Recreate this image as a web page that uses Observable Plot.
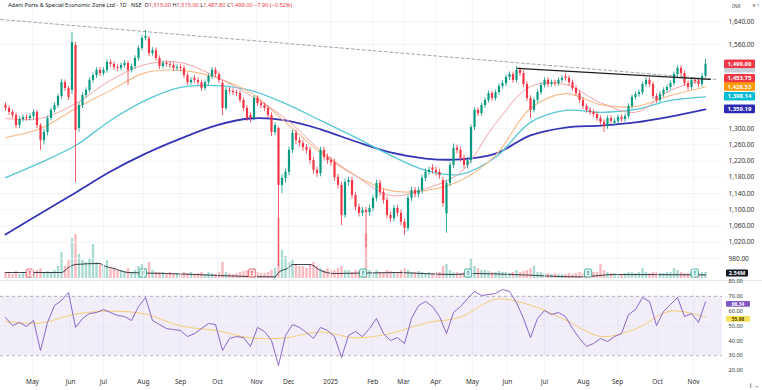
<!DOCTYPE html>
<html><head><meta charset="utf-8">
<script src="https://cdn.jsdelivr.net/npm/d3@7"></script>
<script src="https://cdn.jsdelivr.net/npm/@observablehq/plot@0.6"></script>
<style>
body{margin:0;background:#fff}
#wrap{position:relative;width:762px;height:390px;overflow:hidden;font-family:"Noto Sans",Roboto,sans-serif;background:#fff}
#title{position:absolute;left:8px;top:1px;font-size:5.6px;color:#131722;white-space:nowrap;z-index:5}
#title .v{color:#f23645}
#inr{position:absolute;left:732px;top:3px;font-size:5px;color:#555;z-index:5}
#sep{position:absolute;left:0;top:280px;width:762px;height:1px;background:#e6e8ee}
</style></head><body>
<div id="wrap">
<div id="sep"></div>
<div id="title">Adani Ports &amp; Special Economic Zone Ltd · 1D · NSE&nbsp; O<span class="v">1,515.00</span> H<span class="v">1,515.00</span> L<span class="v">1,487.80</span> C<span class="v">1,499.00</span> <span class="v">−7.90 (−0.52%)</span></div>
<div id="inr">INR</div>
</div>
<script>
// ---------- DATA (bar index = one candle, ~2 sessions) ----------
const closes = [1362,1350,1340,1309,1328,1334,1331,1337,1350,1309,
1270,1290,1331,1356,1371,1399,1442,1424,1396,1567,
1295,1371,1402,1418,1449,1464,1480,1470,1480,1504,
1498,1489,1486,1495,1501,1480,1492,1517,1548,1581,
1588,1532,1541,1517,1492,1501,1498,1495,1486,1489,
1486,1464,1442,1449,1449,1442,1424,1442,1461,1480,
1467,1449,1362,1418,1415,1411,1408,1387,1362,1331,
1331,1393,1377,1371,1362,1340,1290,1309,1160,1177,
1192,1246,1288,1270,1263,1253,1246,1221,1197,1189,
1246,1229,1221,1216,1179,1160,1086,1167,1172,1135,
1106,1091,1098,1093,1103,1128,1165,1142,1123,1086,
1078,1103,1091,1069,1054,1128,1147,1138,1147,1177,
1192,1197,1197,1192,1184,1115,1165,1209,1251,1246,
1226,1209,1221,1303,1356,1346,1371,1387,1408,1393,
1411,1430,1439,1458,1467,1449,1480,1470,1436,1393,
1356,1387,1411,1433,1449,1436,1442,1439,1449,1455,
1455,1442,1424,1408,1387,1368,1356,1350,1343,1331,
1319,1306,1331,1322,1322,1334,1328,1337,1368,1396,
1405,1411,1436,1449,1436,1399,1387,1405,1418,1427,
1439,1467,1486,1470,1439,1427,1449,1445,1436,1461,
1499];
const opens = [1372,1362,1350,1340,1309,1328,1334,1331,1337,1350,
1309,1270,1290,1331,1356,1371,1399,1442,1424,1418,
1557,1300,1371,1402,1418,1449,1464,1480,1470,1480,
1504,1498,1489,1486,1495,1501,1480,1492,1517,1548,
1581,1580,1532,1541,1517,1492,1501,1498,1495,1486,
1489,1486,1464,1442,1455,1449,1442,1424,1442,1461,
1480,1467,1440,1362,1418,1415,1411,1408,1387,1362,
1340,1331,1393,1377,1371,1362,1340,1290,1300,1160,
1177,1192,1246,1288,1270,1263,1253,1246,1221,1197,
1189,1246,1229,1221,1216,1179,1160,1086,1167,1172,
1135,1106,1091,1098,1093,1103,1128,1165,1142,1123,
1086,1078,1103,1091,1069,1054,1128,1147,1138,1147,
1177,1192,1203,1197,1192,1172,1090,1165,1209,1251,
1246,1226,1209,1221,1303,1356,1346,1371,1387,1408,
1393,1411,1430,1439,1458,1467,1449,1480,1470,1436,
1393,1356,1387,1411,1433,1449,1436,1442,1439,1449,
1460,1455,1442,1424,1408,1387,1368,1356,1350,1343,
1331,1319,1306,1331,1316,1322,1334,1328,1337,1368,
1396,1405,1411,1436,1449,1436,1399,1387,1405,1418,
1427,1439,1467,1486,1470,1439,1427,1449,1445,1436,
1462];
const highs = [1380,1370,1358,1348,1336,1342,1342,1346,1358,1356,
1315,1298,1338,1364,1380,1407,1452,1450,1430,1602,
1567,1380,1410,1426,1457,1472,1488,1489,1488,1512,
1512,1506,1497,1503,1510,1508,1500,1525,1556,1592,
1609,1588,1550,1549,1524,1509,1509,1506,1503,1497,
1497,1494,1472,1457,1463,1457,1450,1450,1469,1490,
1488,1475,1448,1426,1426,1423,1419,1416,1395,1370,
1348,1401,1401,1385,1379,1370,1348,1317,1305,1186,
1200,1254,1296,1296,1278,1271,1261,1254,1229,1205,
1254,1254,1237,1229,1224,1187,1168,1175,1180,1180,
1143,1114,1106,1106,1111,1136,1173,1173,1150,1131,
1094,1111,1111,1099,1077,1136,1155,1155,1155,1185,
1200,1205,1211,1205,1200,1180,1173,1217,1262,1259,
1254,1234,1229,1311,1364,1364,1379,1395,1416,1416,
1419,1438,1447,1466,1475,1475,1492,1488,1478,1444,
1401,1395,1419,1441,1457,1457,1450,1450,1457,1463,
1468,1463,1450,1432,1416,1395,1376,1364,1358,1351,
1339,1327,1339,1339,1330,1342,1342,1345,1376,1404,
1413,1419,1444,1457,1457,1444,1407,1413,1426,1435,
1447,1475,1494,1494,1478,1447,1457,1457,1453,1469,
1515];
const lows = [1353,1341,1331,1300,1300,1320,1322,1323,1328,1300,
1246,1260,1282,1324,1348,1362,1390,1415,1387,1405,
1167,1290,1362,1393,1410,1440,1455,1461,1462,1471,
1489,1480,1477,1478,1487,1433,1472,1484,1509,1540,
1572,1522,1524,1508,1483,1484,1490,1486,1477,1478,
1477,1455,1433,1434,1440,1433,1415,1416,1434,1453,
1458,1440,1340,1355,1406,1402,1399,1378,1353,1322,
1318,1324,1368,1362,1353,1331,1280,1282,960,1140,
1165,1184,1238,1260,1254,1244,1237,1212,1188,1180,
1181,1220,1212,1207,1170,1151,1061,1079,1158,1126,
1097,1082,1083,1007,1085,1095,1120,1133,1114,1077,
1069,1070,1082,1060,1037,1047,1120,1129,1130,1139,
1169,1184,1188,1183,1175,1106,1042,1157,1201,1237,
1217,1200,1200,1213,1295,1337,1338,1362,1379,1384,
1385,1402,1421,1430,1449,1440,1441,1461,1427,1384,
1331,1348,1379,1403,1425,1427,1428,1430,1431,1441,
1446,1433,1415,1399,1378,1359,1347,1341,1334,1322,
1310,1290,1298,1313,1308,1314,1319,1320,1329,1360,
1388,1397,1403,1428,1427,1390,1378,1379,1397,1410,
1419,1431,1459,1461,1430,1418,1419,1436,1427,1428,
1455];
// volume in millions, one per candle
const volumes = [3,2.5,2,3.5,2,2.5,2,3,2.5,4,5,3,3.5,3,4,6,
13,6,9,20,22,12,9,8,10,17,8,7,6,9,5,
5,4,4,3.5,5,3,4,6,7,5,8,4,3,3,3,
2.5,3,2,2.5,2,3,2.5,3,2,2.5,3,2,3,2.5,2,
3,8,3,2.5,2,2.5,3,3.5,4,3,5,3,2.5,2.5,3,4,5,
30,14,11,8,9,7,6,6,5,7,8,6,5,4,5,4,4,5,
6,4,4,3,4,3.5,3,22,4,3,4,3,3,4,3.5,3,3,4,5,4,
3,3,3.5,3,2.5,3,2.5,3,3,6,7,4,3,3,2.5,3,3,10,6,5,
4,4,3.5,3,3,3.5,3,3,2.5,3,4,3,3.5,4,5,6,3,3,2.5,2.5,
2,2.5,2,2,2,2.5,2,2.5,3,2.5,3,2.5,3,3,7,4,3,2.5,2.5,2,
2,2.5,3,3,2.5,3,5,3,2.5,3,3,2.5,2.5,3,3,5,4,3,2.5,2.5,3,2.5,2.5,3,3];
const volMAIdx = [0,16,18,20,27,28,31,35,46,77,78,81,82,87,90,94,112,119,128,134,145,164,174,200];
const volMAVal = [3,3,5.5,7,7.5,6.5,5,3,2.5,0.8,3,5.5,7,7,4,2.5,3,2.5,2,2.5,2,0.8,2,1.8];
// moving averages sampled every 10 candles
const maIdx = [0,10,20,30,40,50,60,70,80,90,100,110,120,130,140,150,160,170,180,190,200];
const ma20  = [1331,1331,1377,1449,1498,1504,1461,1402,1331,1246,1184,1135,1152,1192,1315,1430,1436,1380,1350,1418,1453.75];
const ma50  = [1278,1300,1362,1418,1473,1480,1458,1411,1319,1241,1184,1147,1147,1172,1234,1362,1408,1374,1368,1402,1428.53];
const ma100 = [1179,1216,1258,1325,1387,1427,1433,1418,1377,1325,1278,1234,1197,1187,1229,1319,1356,1350,1359,1387,1398.14];
const ma200 = [1039,1091,1142,1194,1238,1275,1309,1331,1325,1298,1268,1241,1226,1224,1238,1283,1303,1309,1319,1337,1359.19];
// trend lines (two end points each)
const trendDashIdx = [-1.4, 202.9], trendDashVal = [1647, 1452];
const trendSolidIdx = [146.3, 201.4], trendSolidVal = [1486, 1452];
// RSI (every 2 candles) and its average (every 10 candles)
const rsi = [55.7,50.3,52.4,49.7,53.7,33.5,52.4,63.8,67.2,72.6,
49.0,55.1,58.4,59.1,61.1,59.1,57.1,56.4,53.7,63.1,
69.2,53.7,51.0,48.3,47.6,47.0,42.9,44.9,48.3,51.7,
51.0,33.5,41.6,42.9,42.2,36.2,49.0,46.3,40.2,23.4,
43.6,51.0,49.0,45.6,41.6,49.0,47.0,42.9,28.8,43.6,
46.3,42.9,48.3,55.1,44.9,40.2,42.2,38.2,55.1,63.8,
66.5,63.1,56.4,44.9,59.1,63.1,68.5,73.3,70.6,71.2,
71.9,74.6,73.3,65.8,55.1,42.2,55.1,60.4,57.7,59.1,
56.4,48.3,41.6,36.2,38.2,41.6,39.5,42.9,44.9,57.7,
61.1,69.2,66.5,50.3,59.8,64.5,69.2,56.4,58.4,52.4,66.34];
const rsiMA = [53,52,58,60,58,50,47,42,42,46,42,45,52,56,68,64,54,43,48,60,55.98];
// axis ticks
const monthIdx = [7.7,18.6,28,39.4,50,60.6,71.7,80.9,92.9,104.9,113.7,122.9,133.4,143.4,154,165.1,174.9,186.3,196.6];
const monthLabels = ["May","Jun","Jul","Aug","Sep","Oct","Nov","Dec","2025","Feb","Mar","Apr","May","Jun","Jul","Aug","Sep","Oct","Nov"];
const priceTicks = [980,1020,1060,1100,1140,1180,1220,1260,1300,1560,1640];
const rsiTicks = [20,30,40,50,60,70,80];
// last-value tags
const priceTagVals = [1499.00,1453.75,1428.53,1398.14,1359.19];
const priceTagColors = ["#f23645","#f23645","#ff9800","#00bcd4","#2a2ab5"];
const hiddenTagVal = 1481.00;
const eventIdx = [7.1,39.4,70.6,102.3,132.3,166.6,197.1];
const eventPositive = [false,true,false,true,true,true,true];
const lastVolume = 2.54;

// ---------- CHART ----------
const W = 762, H = 390;
const GREEN = "#089981", RED = "#f23645";
const fmt2 = d3.format(",.2f");
const N = closes.length;
const candles = d3.range(N).map(i => ({i, o: opens[i], h: highs[i], l: lows[i], c: closes[i], v: volumes[i] ?? 0}));
const col = d => d.c >= d.o ? GREEN : RED;
const xOpt = {domain: [0, 200], range: [5, 705], axis: null};
const priceScale = {type: "linear", domain: [940, 980, 1300, 1560, 1640, 1700], range: [274.25, 258, 128, 44, 21, 3.75], axis: null};
const baseStyle = {position: "absolute", left: "0px", top: "0px", background: "transparent", overflow: "visible", fontFamily: "'Noto Sans',Roboto,sans-serif", fontSize: "6.5px", color: "#333"};
const pts = (idx, vals) => idx.map((i, k) => ({i, v: vals[k]}));
const wrap = document.getElementById("wrap");

// volume pane (under the candles)
const volChart = Plot.plot({
  width: W, height: H, marginLeft: 0, marginRight: 40, marginTop: 0, marginBottom: 110,
  style: baseStyle,
  x: xOpt,
  y: {domain: [0, 50], range: [278, 178], axis: null},
  marks: [
    Plot.ruleX(candles, {x: "i", y1: 0, y2: "v", stroke: col, strokeOpacity: 0.35, strokeWidth: 2.4}),
    Plot.line(pts(volMAIdx, volMAVal), {x: "i", y: "v", stroke: "#131722", strokeWidth: 0.8, curve: "monotone-x"})
  ]
});
wrap.appendChild(volChart);

// price pane
const priceChart = Plot.plot({
  width: W, height: H, marginLeft: 0, marginRight: 40, marginTop: 0, marginBottom: 110,
  style: baseStyle,
  x: xOpt,
  y: priceScale,
  marks: [
    Plot.ruleY(priceTicks, {stroke: "#f0f3fa", strokeWidth: 0.8}),
    Plot.ruleX(monthIdx, {stroke: "#f0f3fa", strokeWidth: 0.8}),
    Plot.line(pts(trendDashIdx, trendDashVal), {x: "i", y: "v", stroke: "#8a8e99", strokeWidth: 0.8, strokeDasharray: "3,2.5"}),
    Plot.line(pts(maIdx, ma200), {x: "i", y: "v", stroke: "#3535b8", strokeWidth: 1.8, curve: "catmull-rom"}),
    Plot.line(pts(maIdx, ma100), {x: "i", y: "v", stroke: "#55c8d4", strokeWidth: 1.3, curve: "catmull-rom"}),
    Plot.line(pts(maIdx, ma50), {x: "i", y: "v", stroke: "#f6bb8a", strokeWidth: 1.1, curve: "catmull-rom"}),
    Plot.line(pts(maIdx, ma20), {x: "i", y: "v", stroke: "#f5a3a8", strokeWidth: 1, curve: "catmull-rom"}),
    Plot.ruleX(candles, {x: "i", y1: "l", y2: "h", stroke: col, strokeWidth: 0.8}),
    Plot.ruleX(candles, {x: "i", y1: "o", y2: "c", stroke: col, strokeWidth: 2.2}),
    Plot.line(pts(trendSolidIdx, trendSolidVal), {x: "i", y: "v", stroke: "#1e1e1e", strokeWidth: 1.1}),
    Plot.axisY(priceTicks, {anchor: "right", tickSize: 0, tickPadding: 6, tickFormat: fmt2, fill: "#333", fontSize: 6.5})
  ]
});
wrap.appendChild(priceChart);

// RSI pane
const monthLabelOf = new Map(monthIdx.map((d, k) => [d, monthLabels[k]]));
const rsiChart = Plot.plot({
  width: W, height: H, marginLeft: 0, marginRight: 40, marginTop: 281, marginBottom: 14,
  style: baseStyle,
  x: xOpt,
  y: {domain: [20, 80], range: [370, 281], axis: null},
  marks: [
    Plot.ruleX(monthIdx, {stroke: "#f0f3fa", strokeWidth: 0.8}),
    Plot.rectY([0], {y1: 30, y2: 70, fill: "#7e57c2", fillOpacity: 0.1}),
    Plot.ruleY([70, 30], {stroke: "#9598a1", strokeWidth: 0.7, strokeDasharray: "3,3"}),
    Plot.ruleY([50], {stroke: "#9598a1", strokeOpacity: 0.4, strokeWidth: 0.6, strokeDasharray: "1,2"}),
    Plot.line(pts(maIdx, rsiMA), {x: "i", y: "v", stroke: "#f3c969", strokeWidth: 0.9, curve: "catmull-rom"}),
    Plot.line(rsi.map((v, k) => ({i: k * 2, v})), {x: "i", y: "v", stroke: "#7e57c2", strokeWidth: 0.9}),
    Plot.axisY(rsiTicks, {anchor: "right", tickSize: 0, tickPadding: 6, tickFormat: d3.format(".2f"), fill: "#333", fontSize: 5.6}),
    Plot.axisX(monthIdx, {anchor: "bottom", tickSize: 0, tickPadding: 3, tickFormat: d => monthLabelOf.get(d), fill: "#333", fontSize: 6.5})
  ]
});
wrap.appendChild(rsiChart);

// value tags on the right axis, positioned with the charts' own scales
function tag(svg, y, text, fill, color, x0 = 724, w = 31, h = 8.6, fs = 6) {
  const g = d3.select(svg).append("g");
  g.append("rect").attr("x", x0).attr("y", y - h / 2).attr("width", w).attr("height", h).attr("rx", 1.2).attr("fill", fill);
  if (text) g.append("text").attr("x", x0 + w / 2).attr("y", y).attr("dy", "0.36em").attr("text-anchor", "middle")
    .attr("font-size", fs).attr("font-weight", 700).attr("fill", color).text(text);
}
const py = priceChart.scale("y");
tag(priceChart, py.apply(hiddenTagVal), null, "#c9ccd3", "#fff", 724, 31, 6);
priceTagVals.forEach((v, k) => tag(priceChart, py.apply(v), fmt2(v), priceTagColors[k], "#fff"));
const ry = rsiChart.scale("y");
tag(rsiChart, ry.apply(rsi[rsi.length - 1]) + 2.6, d3.format(".2f")(rsi[rsi.length - 1]), "#7e57c2", "#fff", 726, 24, 5.8, 4.8);
tag(rsiChart, ry.apply(rsiMA[rsiMA.length - 1]) + 2.2, d3.format(".2f")(rsiMA[rsiMA.length - 1]), "#f7e35a", "#5a4a00", 726, 24, 5.8, 4.8);
const vy = volChart.scale("y"), vx = volChart.scale("x");
tag(volChart, vy.apply(lastVolume), lastVolume.toFixed(2) + "M", "#131722", "#fff", 726, 22, 7, 5.6);
// earnings markers
eventIdx.forEach((i, k) => {
  const cx = vx.apply(i), cy = vy.apply(2.5);
  const c = eventPositive[k] ? GREEN : RED;
  const g = d3.select(volChart).append("g");
  g.append("rect").attr("x", cx - 3.6).attr("y", cy - 4).attr("width", 7.2).attr("height", 8).attr("rx", 1.5)
    .attr("fill", eventPositive[k] ? "#e3f5f2" : "#fde4e6").attr("stroke", c).attr("stroke-width", 0.7);
  g.append("text").attr("x", cx).attr("y", cy).attr("dy", "0.36em").attr("text-anchor", "middle")
    .attr("font-size", 5).attr("fill", c).text("E");
});
</script>
</body></html>
